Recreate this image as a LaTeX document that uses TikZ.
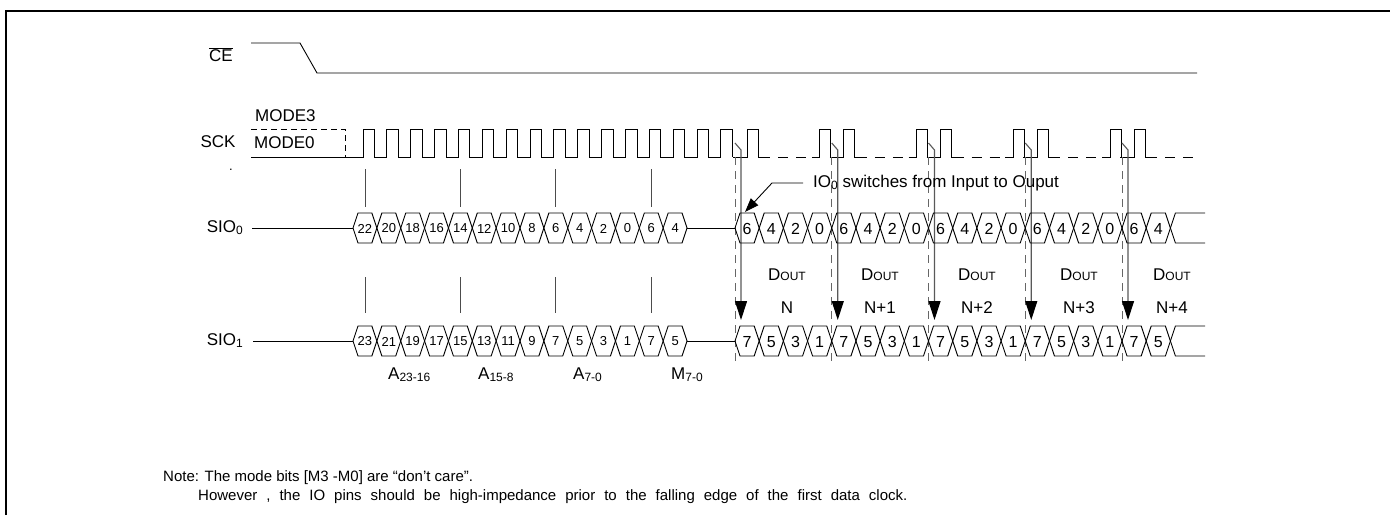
\documentclass[tikz,border=0pt]{standalone}
\usepackage{fontspec}
\setmainfont{Liberation Sans}
\usetikzlibrary{arrows.meta}

\newcommand{\lowidx}[1]{\raisebox{-0.12em}{\fontsize{12}{12}\selectfont #1}}
\newcommand{\dout}{D{\fontsize{12}{12}\selectfont OUT}}

\tikzset{
  wire/.style={line width=0.9pt},
  guide/.style={draw=black!60, line width=0.9pt, dash pattern=on 8pt off 6pt},
  sample/.style={draw=black!65, line width=1.1pt},
  tick/.style={draw=black!70, line width=0.9pt},
  sigtxt/.style={font=\fontsize{17}{17}\selectfont, inner sep=0pt},
  bittxt/.style={font=\fontsize{13}{13}\selectfont, inner sep=0pt},
  outtxt/.style={font=\fontsize{16}{16}\selectfont, inner sep=0pt},
  notetxt/.style={font=\fontsize{15}{15}\selectfont, inner sep=0pt, anchor=west}
}

\begin{document}
\begin{tikzpicture}[x=1pt, y=-1pt]
  \useasboundingbox (0,0) rectangle (1390,515);
  % Frame
  \draw[line width=2pt] (6,515) -- (6,11) -- (1390,11);

  % CE#
  \node[sigtxt] (ce) at (221,55) {$\overline{\mbox{CE}}$};
  \draw[wire] (251,43) -- (300,43) -- (317,73) -- (1197,73);

  % SCK
  \node[sigtxt] (sck) at (218,142) {SCK};
  \node[sigtxt, anchor=west] (mode3) at (255,116) {MODE3};
  \node[sigtxt, anchor=west] (mode0) at (254,143) {MODE0};
  \node[bittxt] (dot) at (231,170) {.};
  \draw[wire, dash pattern=on 6pt off 4pt] (251,129) -- (345,129) -- (345,157);
  \draw[wire] (251,157) -- (363,157)
    \foreach \k in {0,...,15} {
      -- ({363+23.86*\k},157) -- ({363+23.86*\k},129)
      -- ({374.5+23.86*\k},129) -- ({374.5+23.86*\k},157) };
  \foreach \j in {0,...,4} {
    \pgfmathsetmacro{\b}{735+96.75*\j}
    \draw[wire] (\b-2,157) -- (\b+12,157) -- (\b+12,129) -- (\b+23,129)
      -- (\b+23,157) -- (\b+35,157);
    \draw[wire] (\b+43,157) -- (\b+53,157);
    \draw[wire] (\b+61,157) -- (\b+71,157);
    \ifnum\j>0
      \draw[wire] (\b-20,157) -- (\b-12,157) -- (\b-12,129) -- (\b-1,129)
        -- (\b-1,157) -- (\b,157);
    \fi
    % falling edge markers
    \draw[guide] (\b,157) -- (\b,362);
    \draw[sample, -{Triangle[width=12pt, length=19pt, color=black]}]
      (\b,143) -- (\b+6,150) -- (\b+6,320);
  }

  % sample ticks
  \foreach \i in {0,4,8,12} {
    \draw[tick] ({365+23.86*\i},169) -- ({365+23.86*\i},207);
    \draw[tick] ({365+23.86*\i},277) -- ({365+23.86*\i},313);
  }

  % SIO0
  \node[sigtxt, anchor=east] (sio0) at (243,228) {SIO\lowidx{0}};
  \draw[wire] (252,228) -- (353,228);
  \foreach \v [count=\i from 0] in {22,20,18,16,14,12,10,8,6,4,2,0,6,4} {
    \pgfmathsetmacro{\xa}{353+23.86*\i}
    \draw[wire] (\xa,228) -- (\xa+5,213) -- (\xa+18.86,213) -- (\xa+23.86,228)
      -- (\xa+18.86,243) -- (\xa+5,243) -- cycle;
    \node[bittxt] (sia\i) at (\xa+11.93,228.5) {\v};
  }
  \draw[wire] (687,228) -- (735,228);
  \foreach \v [count=\i from 0] in {6,4,2,0,6,4,2,0,6,4,2,0,6,4,2,0,6,4} {
    \pgfmathsetmacro{\xa}{735+24.1875*\i}
    \draw[wire] (\xa,228) -- (\xa+5,213) -- (\xa+19.19,213) -- (\xa+24.19,228)
      -- (\xa+19.19,243) -- (\xa+5,243) -- cycle;
    \node[outtxt] (sib\i) at (\xa+12.1,229) {\v};
  }
  \draw[wire] (1170.4,228) -- (1175.4,213) -- (1205,213);
  \draw[wire] (1170.4,228) -- (1175.4,243) -- (1205,243);

  % SIO1
  \node[sigtxt, anchor=east] (sio1) at (243,341) {SIO\lowidx{1}};
  \draw[wire] (253,341) -- (353,341);
  \foreach \v [count=\i from 0] in {23,21,19,17,15,13,11,9,7,5,3,1,7,5} {
    \pgfmathsetmacro{\xa}{353+23.86*\i}
    \draw[wire] (\xa,341) -- (\xa+5,326) -- (\xa+18.86,326) -- (\xa+23.86,341)
      -- (\xa+18.86,356) -- (\xa+5,356) -- cycle;
    \node[bittxt] (soa\i) at (\xa+11.93,341.5) {\v};
  }
  \draw[wire] (687,341) -- (735,341);
  \foreach \v [count=\i from 0] in {7,5,3,1,7,5,3,1,7,5,3,1,7,5,3,1,7,5} {
    \pgfmathsetmacro{\xa}{735+24.1875*\i}
    \draw[wire] (\xa,341) -- (\xa+5,326) -- (\xa+19.19,326) -- (\xa+24.19,341)
      -- (\xa+19.19,356) -- (\xa+5,356) -- cycle;
    \node[outtxt] (sob\i) at (\xa+12.1,342) {\v};
  }
  \draw[wire] (1170.4,341) -- (1175.4,326) -- (1205,326);
  \draw[wire] (1170.4,341) -- (1175.4,356) -- (1205,356);

  % IO0 direction change
  \node[sigtxt, anchor=west] (switch) at (813,183) {IO\lowidx{0} switches from Input to Ouput};
  \coordinate (bend) at (772,183);
  \coordinate (tip) at (745,212);
  \draw[wire, -{Triangle[width=10pt, length=14pt]}] ([xshift=-10pt]switch.west) -- (bend) -- (tip);

  % Output bytes
  \foreach \x/\n [count=\i] in {787/N, 880/N+1, 977/N+2, 1079/N+3, 1172/N+4} {
    \node[sigtxt] (dout\i) at (\x,275) {\dout};
    \node[sigtxt] (byte\i) at (\x,308) {\n};
  }

  % Address fields
  \node[sigtxt, anchor=west] (hiaddr) at (388,375) {A\lowidx{23-16}};
  \node[sigtxt, anchor=west] (midaddr) at (478,375) {A\lowidx{15-8}};
  \node[sigtxt, anchor=west] (loaddr) at (573,375) {A\lowidx{7-0}};
  \node[sigtxt, anchor=west] (modebits) at (671,375) {M\lowidx{7-0}};

  % Note
  \node[notetxt] (note) at (163,478) {Note: The mode bits [M3 -M0] are “don’t care”.};
  \node[notetxt] (however) at (198,497) {\spaceskip=0.6em However , the IO pins should be high-impedance prior to the falling edge of the first data clock.};
\end{tikzpicture}
\end{document}
